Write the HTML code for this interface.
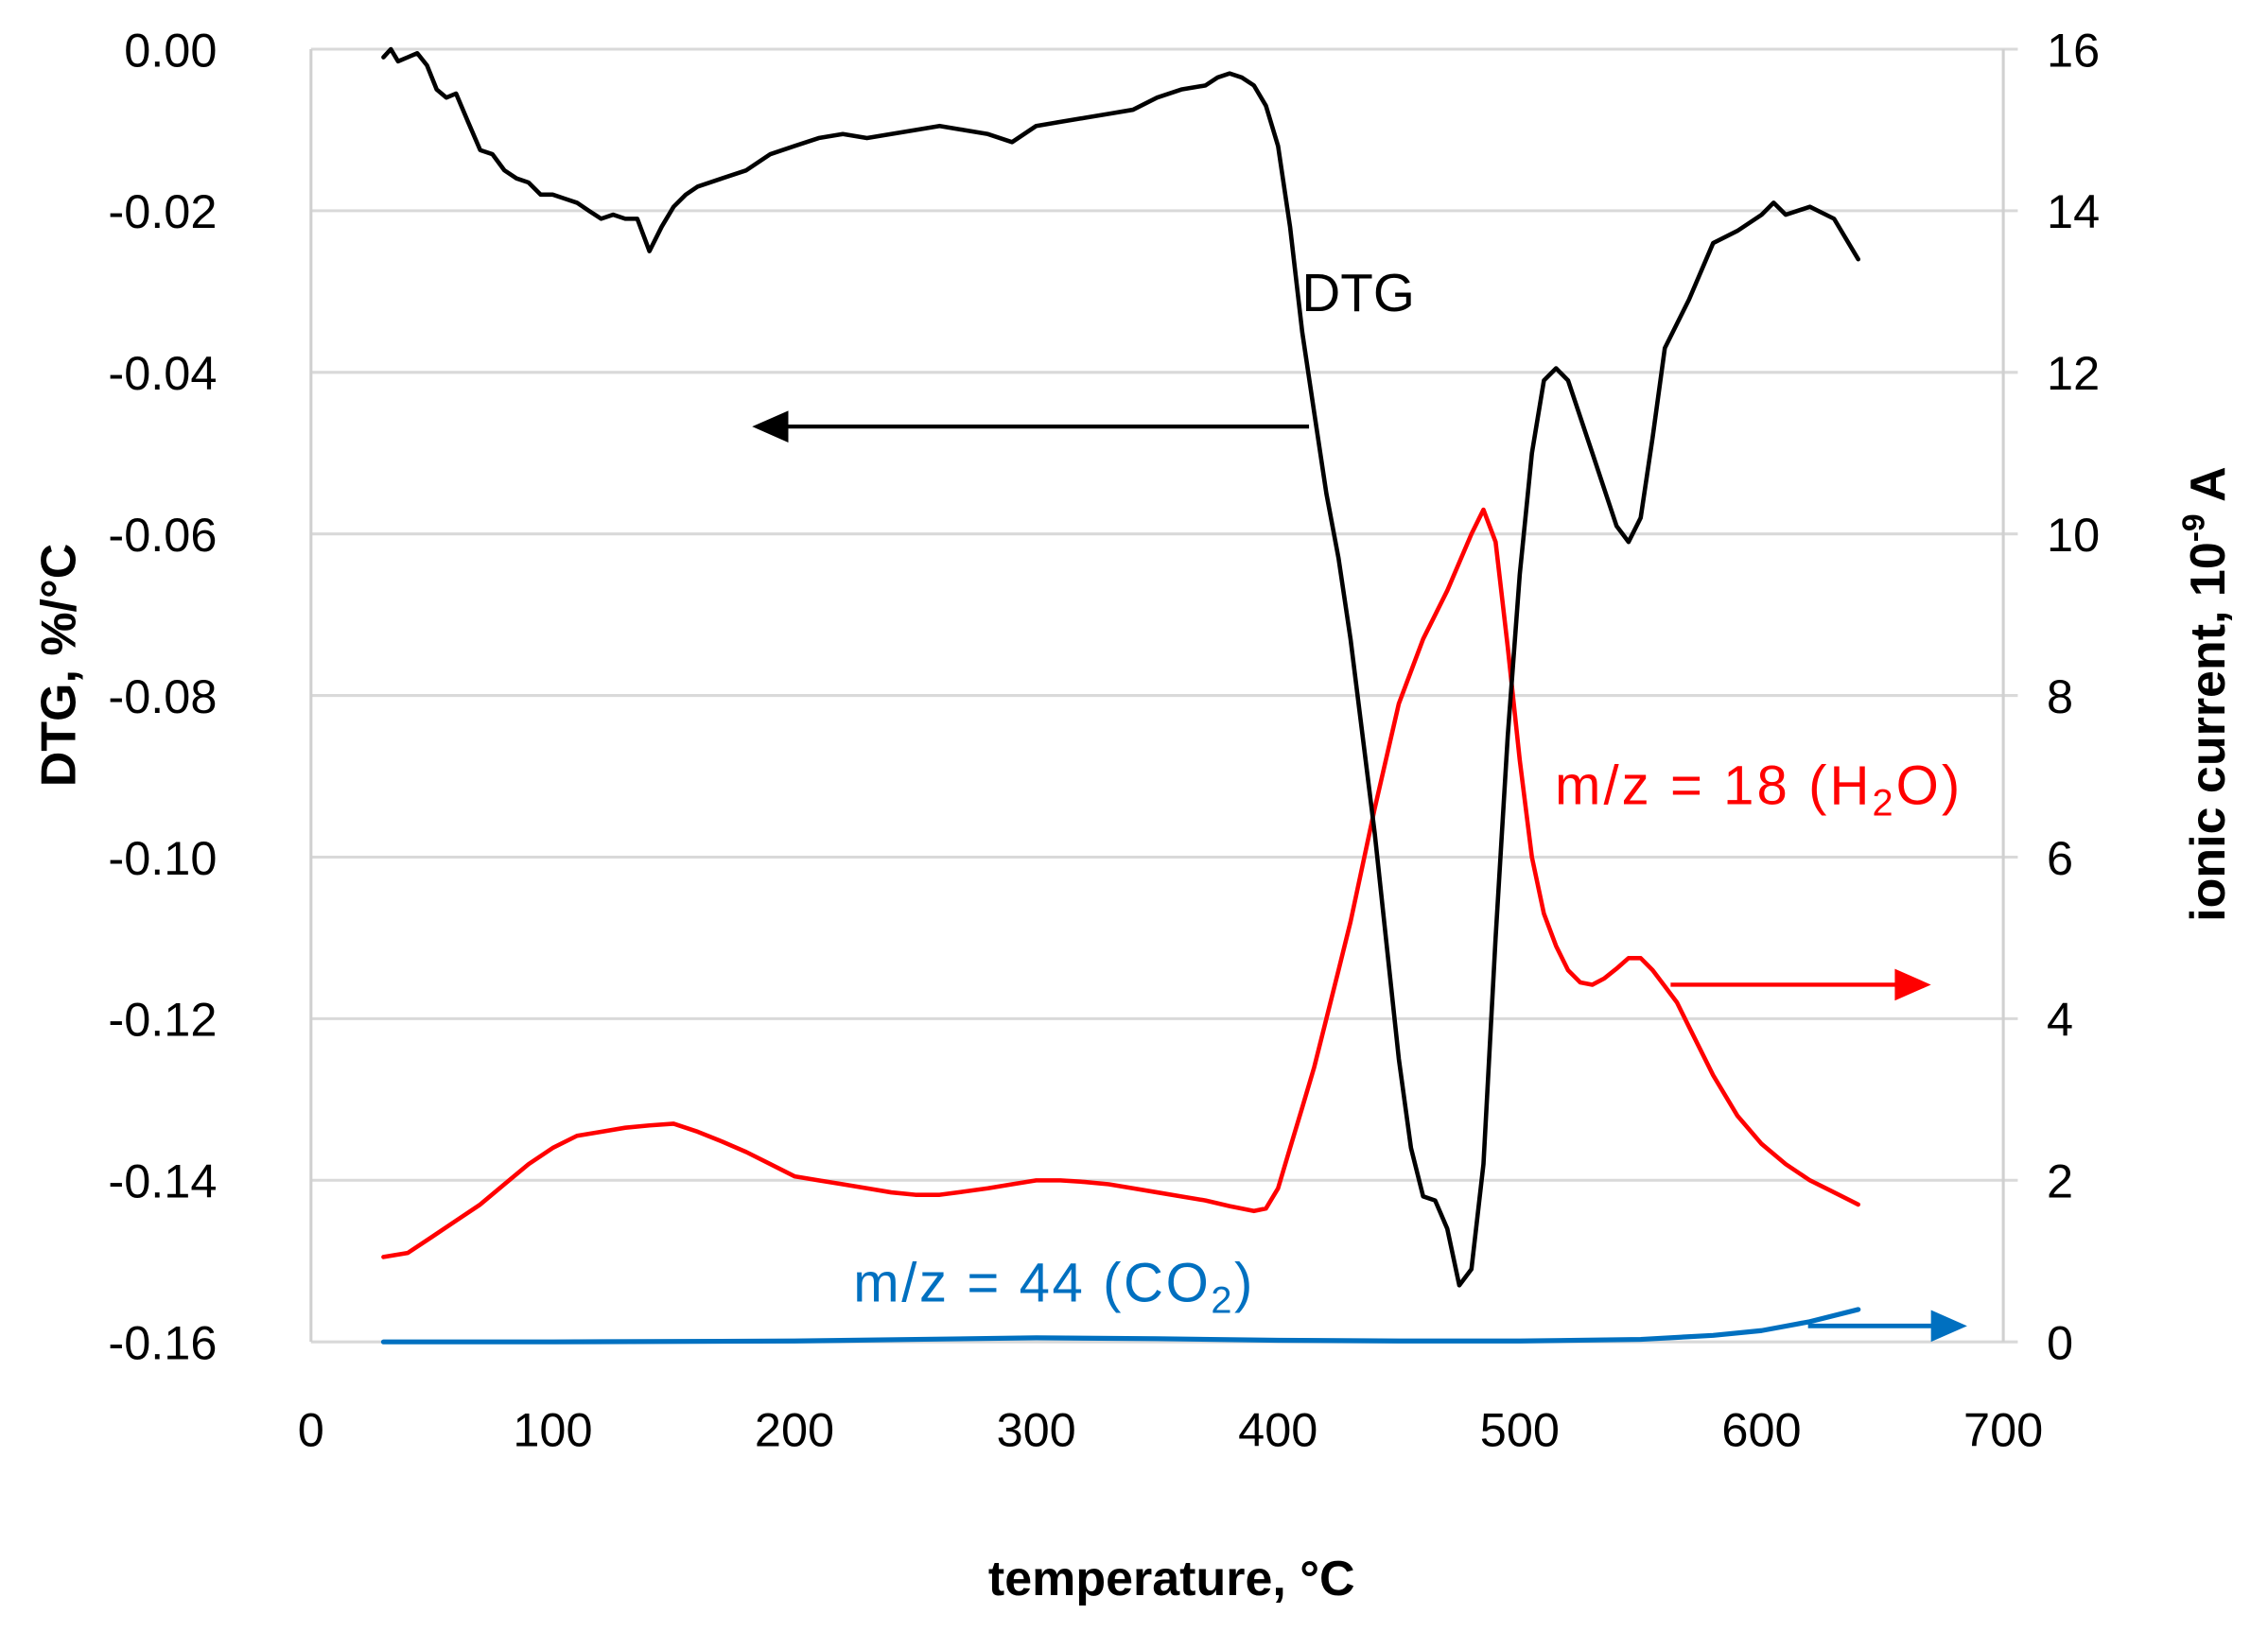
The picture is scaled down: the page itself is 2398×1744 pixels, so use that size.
<!DOCTYPE html>
<html><head><meta charset="utf-8"><style>
html,body{margin:0;padding:0;background:#fff}
svg{display:block}
text{font-family:"Liberation Sans",sans-serif}
</style></head><body>
<svg id="chart" width="2398" height="1744" viewBox="0 0 1568 1140.4" preserveAspectRatio="none" xmlns="http://www.w3.org/2000/svg">
<g id="grid"></g>
<g id="axes"></g>
<g id="series"></g>
<g id="annot">
  <text x="900" y="215" font-size="37" fill="#000">DTG</text>
  <line x1="905" y1="295" x2="540" y2="295" stroke="#000" stroke-width="2.8"/>
  <polygon points="520,295 545,284 545,306" fill="#000"/>
  <text x="1075" y="556" font-size="38" fill="#ff0000" textLength="280">m/z = 18 (H<tspan font-size="26" dy="8">2</tspan><tspan dy="-8">O)</tspan></text>
  <line x1="1155" y1="681" x2="1312" y2="681" stroke="#ff0000" stroke-width="2.8"/>
  <polygon points="1335,681 1310,670 1310,692" fill="#ff0000"/>
  <text x="590" y="900" font-size="38" fill="#0070c0" textLength="276">m/z = 44 (CO<tspan font-size="26" dy="8">2</tspan><tspan dy="-8">)</tspan></text>
  <line x1="1250" y1="917" x2="1338" y2="917" stroke="#0070c0" stroke-width="3.2"/>
  <polygon points="1360,917 1335,906 1335,928" fill="#0070c0"/>
  <text transform="translate(52,460) rotate(-90)" text-anchor="middle" font-size="34" font-weight="bold">DTG, %/°C</text>
  <text transform="translate(1538,480) rotate(-90)" text-anchor="middle" font-size="34" font-weight="bold">ionic current, 10<tspan font-size="22" dy="-14">-9</tspan><tspan dy="14"> A</tspan></text>
  <text x="810" y="1103" text-anchor="middle" font-size="34" font-weight="bold">temperature, °C</text>
</g>
</svg>
<script>
const xTicks=[0,100,200,300,400,500,600,700];
const yLeftTicks=[0,-0.02,-0.04,-0.06,-0.08,-0.10,-0.12,-0.14,-0.16];
const yLeftLabels=["0.00","-0.02","-0.04","-0.06","-0.08","-0.10","-0.12","-0.14","-0.16"];
const yRightTicks=[0,2,4,6,8,10,12,14,16];
const dtgT=[30,33,36,40,44,48,52,56,60,65,70,75,80,85,90,95,100,105,110,115,120,125,130,135,140,145,150,155,160,170,180,190,200,210,220,230,240,250,260,270,280,290,300,310,320,330,340,350,360,370,375,380,385,390,395,400,405,410,415,420,425,430,440,450,455,460,465,470,475,480,485,490,495,500,505,510,515,520,530,540,545,550,555,560,570,580,590,600,605,610,620,630,640];
const dtgV=[-0.001,0,-0.0015,-0.001,-0.0005,-0.002,-0.005,-0.006,-0.0055,-0.009,-0.0125,-0.013,-0.015,-0.016,-0.0165,-0.018,-0.018,-0.0185,-0.019,-0.02,-0.021,-0.0205,-0.021,-0.021,-0.025,-0.022,-0.0195,-0.018,-0.017,-0.016,-0.015,-0.013,-0.012,-0.011,-0.0105,-0.011,-0.0105,-0.01,-0.0095,-0.01,-0.0105,-0.0115,-0.0095,-0.009,-0.0085,-0.008,-0.0075,-0.006,-0.005,-0.0045,-0.0035,-0.003,-0.0035,-0.0045,-0.007,-0.012,-0.022,-0.035,-0.045,-0.055,-0.063,-0.073,-0.097,-0.125,-0.136,-0.142,-0.1425,-0.146,-0.153,-0.151,-0.138,-0.11,-0.085,-0.065,-0.05,-0.041,-0.0395,-0.041,-0.05,-0.059,-0.061,-0.058,-0.048,-0.037,-0.031,-0.024,-0.0225,-0.0205,-0.019,-0.0205,-0.0195,-0.021,-0.026];
const h2oT=[30,40,50,60,70,80,90,100,110,120,130,140,150,160,170,180,190,200,210,220,230,240,250,260,270,280,290,300,310,320,330,340,350,360,370,380,390,395,400,405,410,415,420,425,430,440,450,460,470,480,485,490,495,500,505,510,515,520,525,530,535,540,545,550,555,560,565,570,580,590,600,610,620,630,640];
const h2oV=[1.05,1.1,1.3,1.5,1.7,1.95,2.2,2.4,2.55,2.6,2.65,2.68,2.7,2.6,2.48,2.35,2.2,2.05,2.0,1.95,1.9,1.85,1.82,1.82,1.86,1.9,1.95,2.0,2.0,1.98,1.95,1.9,1.85,1.8,1.75,1.68,1.62,1.65,1.9,2.4,2.9,3.4,4.0,4.6,5.2,6.6,7.9,8.7,9.3,10.0,10.3,9.9,8.6,7.2,6.0,5.3,4.9,4.6,4.45,4.42,4.5,4.62,4.75,4.75,4.6,4.4,4.2,3.9,3.3,2.8,2.45,2.2,2.0,1.85,1.7];
const co2T=[30,100,200,250,300,350,400,450,500,550,580,600,620,640];
const co2V=[0,0,0.01,0.03,0.05,0.04,0.02,0.01,0.01,0.03,0.08,0.14,0.25,0.4];

const NS="http://www.w3.org/2000/svg";
const L=215,R=1385,T=34,B=928;
const xS=t=>L+(t/700)*(R-L);
const yL=v=>T+(-v/0.16)*(B-T);
const yR=v=>B-(v/16)*(B-T);
function mk(tag,attrs,parent){const e=document.createElementNS(NS,tag);for(const k in attrs)e.setAttribute(k,attrs[k]);parent.appendChild(e);return e;}
const grid=document.getElementById('grid'),axes=document.getElementById('axes'),series=document.getElementById('series');
yLeftTicks.forEach((v,i)=>{
  const y=yL(v);
  const g=mk('line',{x1:L,x2:R+10,y1:y,y2:y,stroke:'#d9d9d9','stroke-width':2},grid);
  
  
  const t=mk('text',{x:150,y:y+12,'text-anchor':'end','font-size':33,fill:'#000'},axes);
  t.textContent=yLeftLabels[i];
  
  
});
yRightTicks.forEach(v=>{
  const t=mk('text',{x:1415,y:yR(v)+12,'font-size':33,fill:'#000'},axes);
  t.textContent=String(v);
  
  
});
xTicks.forEach(v=>{
  const t=mk('text',{x:xS(v),y:1000,'text-anchor':'middle','font-size':33,fill:'#000'},axes);
  t.textContent=String(v);
  
  
});
const la=mk('line',{x1:L,x2:L,y1:T,y2:B,stroke:'#d0d0d0','stroke-width':2},axes);


const ra=mk('line',{x1:R,x2:R,y1:T,y2:B,stroke:'#d0d0d0','stroke-width':2},axes);


function line(ts,vs,yf,color,w,name){
  const pts=ts.map((t,i)=>xS(t).toFixed(1)+','+yf(vs[i]).toFixed(1)).join(' ');
  const p=mk('polyline',{points:pts,fill:'none',stroke:color,'stroke-width':w,'stroke-linejoin':'round','stroke-linecap':'round'},series);
  
  
}
line(h2oT,h2oV,yR,'#ff0000',3,'h2o-line');
line(co2T,co2V,yR,'#0070c0',3.4,'co2-line');
line(dtgT,dtgV,yL,'#000',3,'dtg-line');
</script>
</body></html>
